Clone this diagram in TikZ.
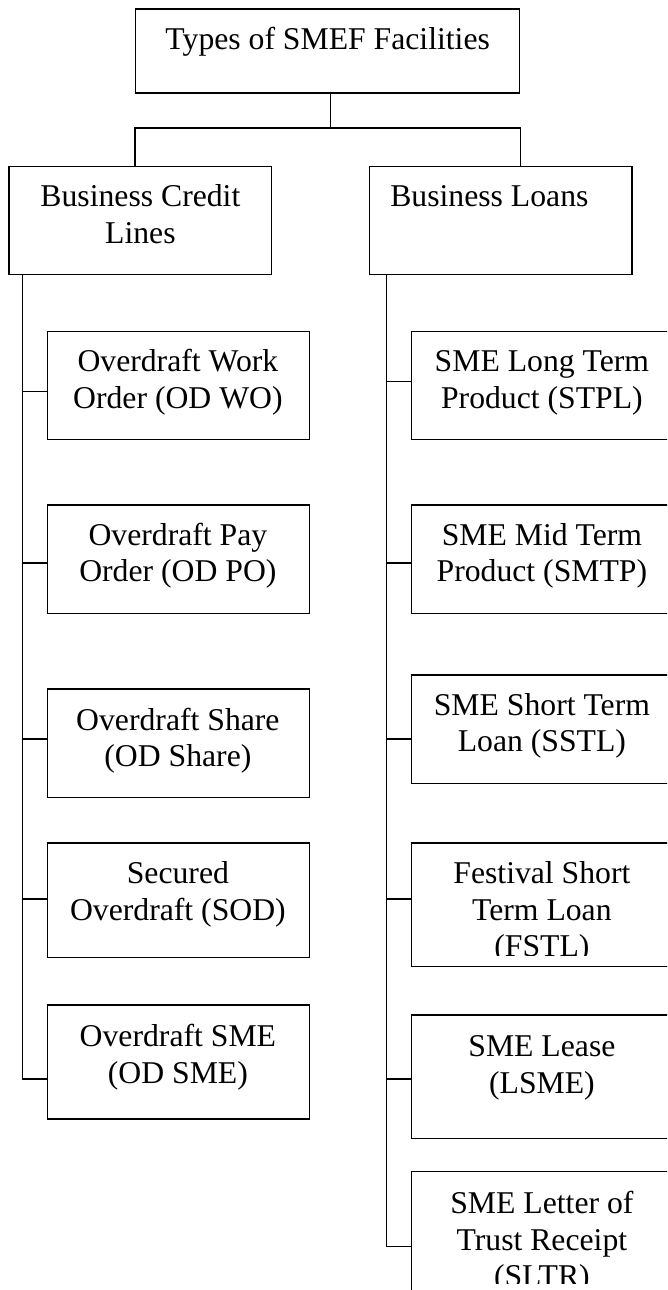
\documentclass[tikz,border=0pt]{standalone}
\usepackage{fontspec}
\setmainfont{Liberation Serif}
\usetikzlibrary{calc}
\begin{document}
\begin{tikzpicture}[x=1pt,y=-1pt,
  box/.style={draw=black,line width=1.4pt,rectangle,inner sep=0pt,anchor=north west,minimum width=262.3pt},
  txt/.style={font=\fontsize{31.7}{36.7}\selectfont,align=center,inner sep=0pt,anchor=north},
  conn/.style={draw=black,line width=1.4pt}]
\clip (0,0) rectangle (667,1290);
\fill[white] (0,0) rectangle (667,1290);
% top level
\node[box,minimum width=384pt,minimum height=84pt] (top) at (135,8.3) {};
\node[txt] (topT) at (327.7,23.3) {\strut Types of SMEF Facilities};
\node[box,minimum height=108.3pt] (bcl) at (8.3,165.7) {};
\node[txt] (bclT) at (140.4,181.0) {\strut Business Credit\\\strut Lines};
\node[box,minimum height=108.3pt] (bl) at (369,165.7) {};
\node[txt] (blT) at (489.4,181.0) {\strut Business Loans};
\coordinate (hub) at (330.7,128);
\draw[conn] (top.south -| hub) -- (hub);
\draw[conn] (bcl.north -| top.west) |- (hub) -| (bl.north -| top.east);
% left column
\node[box,minimum height=108.3pt] (odwo) at (46.7,330.7) {};
\node[txt] (odwoT) at (177.9,346.0) {\strut Overdraft Work\\\strut Order (OD WO)};
\node[box,minimum height=108.4pt] (odpo) at (46.7,504.3) {};
\node[txt] (odpoT) at (177.9,519.3) {\strut Overdraft Pay\\\strut Order (OD PO)};
\node[box,minimum height=108.4pt] (odsh) at (46.7,688.3) {};
\node[txt] (odshT) at (177.9,704.3) {\strut Overdraft Share\\\strut (OD Share)};
\node[box,minimum height=114.4pt] (sod) at (46.7,842.3) {};
\node[txt] (sodT) at (177.9,857.6) {\strut Secured\\\strut Overdraft (SOD)};
\node[box,minimum height=114pt] (odsme) at (46.7,1004.3) {};
\node[txt] (odsmeT) at (177.9,1021.0) {\strut Overdraft SME\\\strut (OD SME)};
\coordinate (lt) at (22.7,274);
\draw[conn] (lt) |- ($(odsme.west)+(0,17)$);
\draw[conn] (lt |- {$(odwo.west)+(0,5.65)$}) -- ($(odwo.west)+(0,5.65)$);
\draw[conn] (lt |- {$(odpo.west)+(0,3.8)$}) -- ($(odpo.west)+(0,3.8)$);
\draw[conn] (lt |- {$(odsh.west)+(0,-4.2)$}) -- ($(odsh.west)+(0,-4.2)$);
\draw[conn] (lt |- {$(sod.west)+(0,-1.2)$}) -- ($(sod.west)+(0,-1.2)$);
% right column
\node[box,minimum height=108.3pt] (stpl) at (410.7,330.7) {};
\node[txt] (stplT) at (541.9,346.0) {\strut SME Long Term\\\strut Product (STPL)};
\node[box,minimum height=108.4pt] (smtp) at (410.7,504.3) {};
\node[txt] (smtpT) at (541.9,519.3) {\strut SME Mid Term\\\strut Product (SMTP)};
\node[box,minimum height=108.4pt] (sstl) at (410.7,674.3) {};
\node[txt] (sstlT) at (541.9,689.3) {\strut SME Short Term\\\strut Loan (SSTL)};
\node[box,minimum height=123.7pt] (fstl) at (410.7,842.3) {};
\begin{scope}
\clip (410.7,842.3) rectangle (673,955);
\node[txt] (fstlT) at (541.9,857.6) {\strut Festival Short\\\strut Term Loan\\\strut (FSTL)};
\end{scope}
\node[box,minimum height=123.4pt] (lsme) at (410.7,1014.3) {};
\node[txt] (lsmeT) at (541.9,1031.0) {\strut SME Lease\\\strut (LSME)};
\node[box,minimum height=129pt] (sltr) at (410.7,1171) {};
\begin{scope}
\clip (410.7,1171) rectangle (673,1283.3);
\node[txt] (sltrT) at (541.9,1187.6) {\strut SME Letter of\\\strut Trust Receipt\\\strut (SLTR)};
\end{scope}
\coordinate (rt) at (386.7,274);
\draw[conn] (rt) |- ($(sltr.west)+(0,10.5)$);
\draw[conn] (rt |- {$(stpl.west)+(0,-4.15)$}) -- ($(stpl.west)+(0,-4.15)$);
\draw[conn] (rt |- {$(smtp.west)+(0,3.8)$}) -- ($(smtp.west)+(0,3.8)$);
\draw[conn] (rt |- {$(sstl.west)+(0,9.8)$}) -- ($(sstl.west)+(0,9.8)$);
\draw[conn] (rt |- {$(fstl.west)+(0,-5.85)$}) -- ($(fstl.west)+(0,-5.85)$);
\draw[conn] (rt |- {$(lsme.west)+(0,2.3)$}) -- ($(lsme.west)+(0,2.3)$);
\end{tikzpicture}
\end{document}
